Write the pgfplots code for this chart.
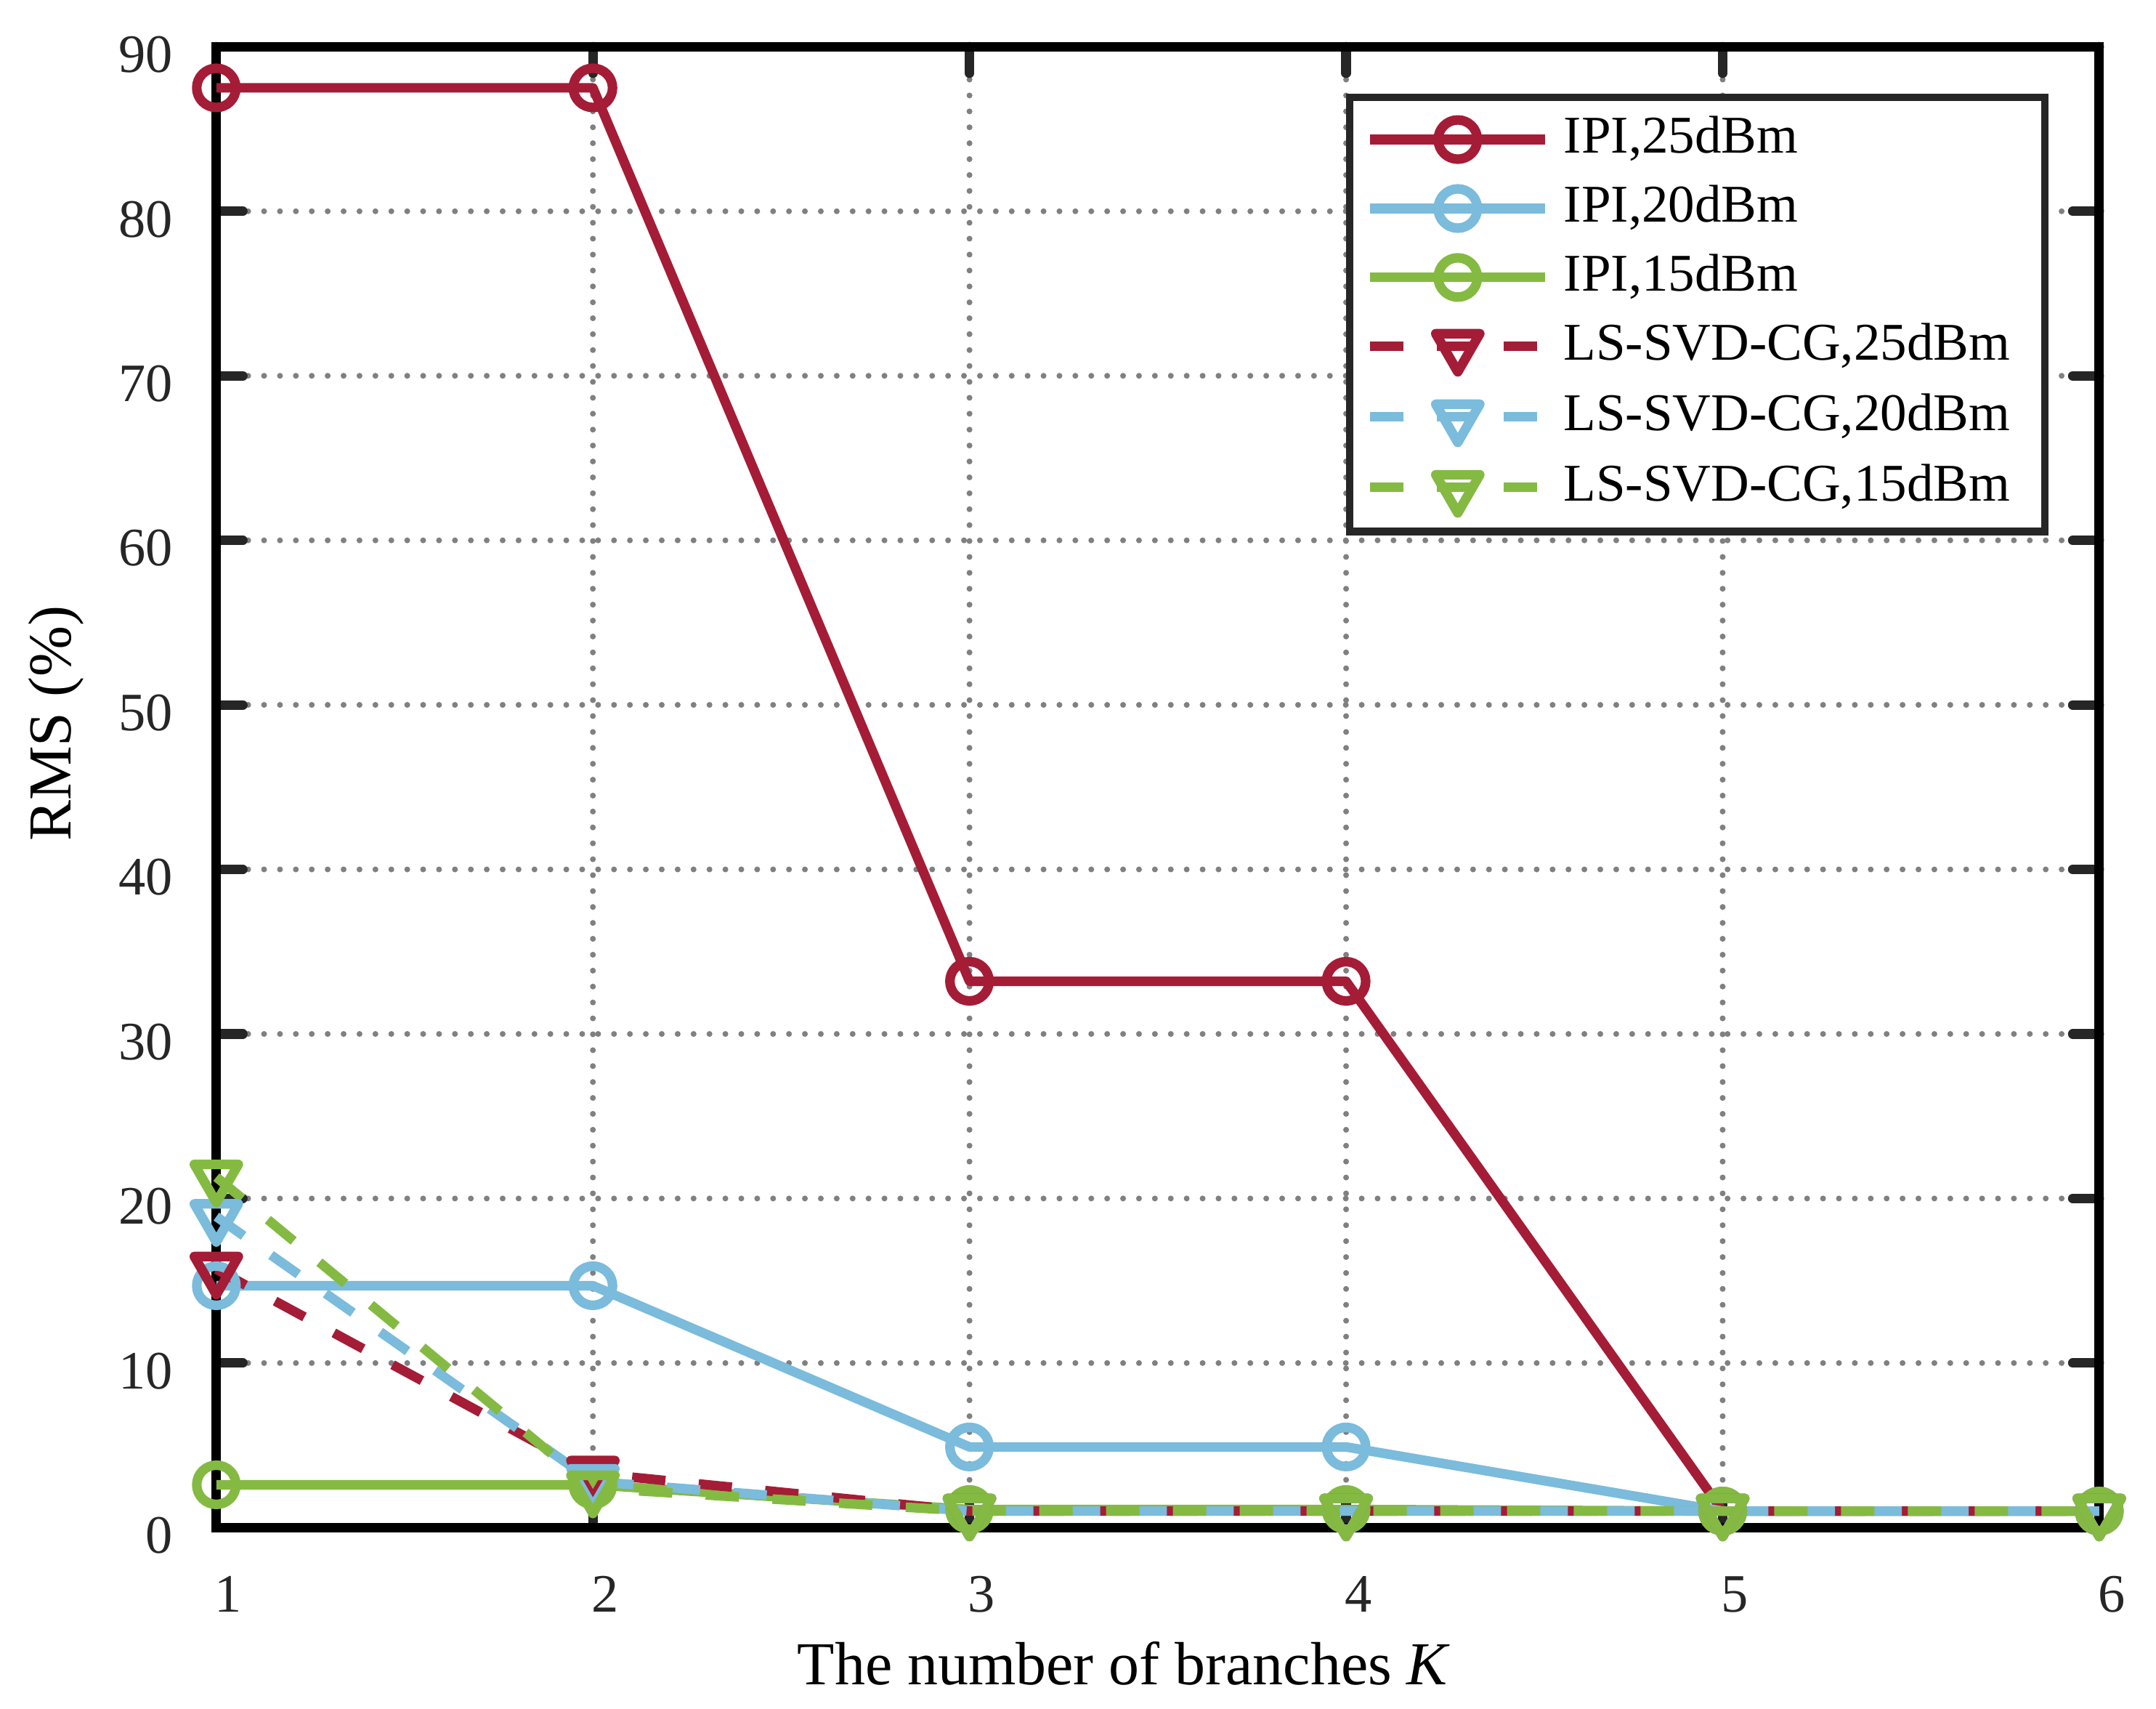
\documentclass[border=0pt]{standalone}
\usepackage{fontspec}
\setmainfont{Liberation Serif}
\usepackage{pgfplots}
\pgfplotsset{compat=1.18}
\definecolor{cR}{HTML}{A51C36}
\definecolor{cB}{HTML}{7BBBDB}
\definecolor{cG}{HTML}{84BA42}
\definecolor{tk}{HTML}{262626}
\begin{document}
\begin{tikzpicture}
\path[use as bounding box] (-40.8pt,-34.2pt) rectangle (365.8pt,288.0pt);
\begin{axis}[
  at={(0pt,0pt)}, anchor=south west,
  scale only axis, width=355.1pt, height=279.2pt,
  xmin=1, xmax=6, ymin=0, ymax=90,
  xtick={1,2,3,4,5,6}, ytick={0,10,20,30,40,50,60,70,80,90},
  clip=false,
  axis line style={black, line width=1.8pt},
  tick align=inside, major tick length=5pt,
  tick style={tk, line width=1.8pt, line cap=round},
  grid=major,
  major grid style={draw=gray, line width=1.1pt, line cap=round, dash pattern=on 0pt off 3pt},
  /pgf/number format/assume math mode=true,
  tick label style={font=\fontsize{10.2}{12}\selectfont, text=tk},
  yticklabel style={inner sep=0pt, xshift=-8pt, yshift=-1.5pt},
  xticklabel style={inner sep=0pt, yshift=-9pt, xshift=2.3pt},
  xlabel={The number of branches \textit{K}},
  ylabel={RMS (\%)},
  label style={font=\fontsize{11.5}{13}\selectfont},
  xlabel style={at={(axis description cs:0.482,-0.106)}, anchor=base},
  ylabel style={at={(axis description cs:-0.0772,0.543)}, anchor=base},
  legend style={at={(axis description cs:1,1)}, anchor=north east, xshift=-9.6pt, yshift=-8.8pt,
    draw=tk, line width=1.4pt, fill=white, font=\fontsize{10}{12}\selectfont,
    inner xsep=3pt, inner ysep=3.5pt, row sep=4pt, column sep=2.6pt,
    nodes={inner sep=0pt, text height=7pt, text depth=2pt}},
  legend cell align=left,
  legend image code/.code={\draw[mark repeat=2, mark phase=2, #1] plot coordinates {(0pt,0pt) (16.5pt,0pt) (33pt,0pt)};},
  every axis plot/.append style={line width=1.8pt, line join=round},
]
\addplot[cR, mark=o, mark size=3.7pt, mark options={solid}] coordinates {(1,87.5)(2,87.5)(3,33.2)(4,33.2)(5,1.0)(6,1.0)};
\addlegendentry{IPI,25dBm}
\addplot[cB, mark=o, mark size=3.7pt, mark options={solid}] coordinates {(1,14.7)(2,14.7)(3,4.9)(4,4.9)(5,1.0)(6,1.0)};
\addlegendentry{IPI,20dBm}
\addplot[cG, mark=o, mark size=3.7pt, mark options={solid}] coordinates {(1,2.6)(2,2.6)(3,1.1)(4,1.1)(5,1.0)(6,1.0)};
\addlegendentry{IPI,15dBm}
\addplot[cR, dash pattern=on 6.3pt off 6.3pt, mark=triangle, mark size=4.8pt, mark options={solid, rotate=180}] coordinates {(1,15.7)(2,3.3)(3,1.0)(4,1.0)(5,1.0)(6,1.0)};
\addlegendentry{LS-SVD-CG,25dBm\hspace*{3.5pt}}
\addplot[cB, dash pattern=on 6.3pt off 6.3pt, mark=triangle, mark size=4.8pt, mark options={solid, rotate=180}] coordinates {(1,18.9)(2,2.8)(3,1.0)(4,1.0)(5,1.0)(6,1.0)};
\addlegendentry{LS-SVD-CG,20dBm\hspace*{3.5pt}}
\addplot[cG, dash pattern=on 6.3pt off 6.3pt, mark=triangle, mark size=4.8pt, mark options={solid, rotate=180}] coordinates {(1,21.3)(2,2.4)(3,1.0)(4,1.0)(5,1.0)(6,1.0)};
\addlegendentry{LS-SVD-CG,15dBm\hspace*{3.5pt}}
\end{axis}
\end{tikzpicture}
\end{document}
